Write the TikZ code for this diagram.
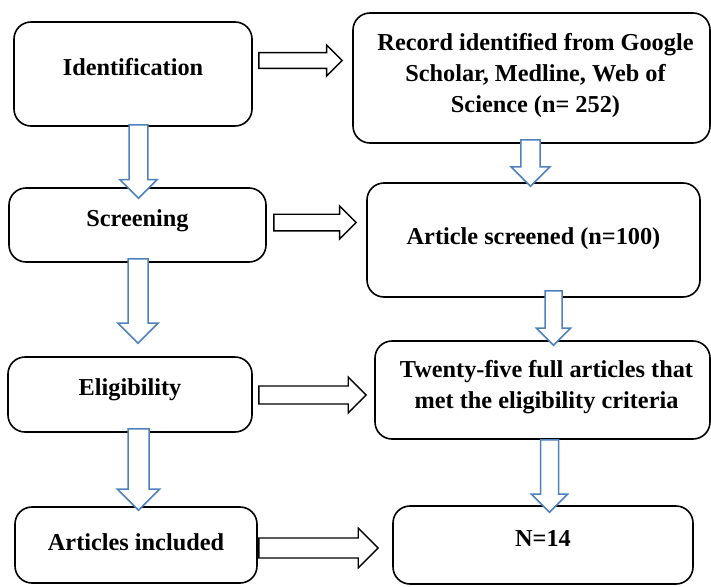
\documentclass[tikz,border=0pt]{standalone}
\usepackage{fontspec}
\setmainfont{Liberation Serif}
\usepackage{tikz}
\usetikzlibrary{calc,positioning}
\definecolor{stepblue}{RGB}{79,129,189}

% hollow block arrow: [shaft half width]{style}{from}{to}
\newcommand{\blockarrow}[4][9.5pt]{%
  \coordinate (ba-s) at (#3);
  \coordinate (ba-t) at (#4);
  \coordinate (ba-b) at ($(ba-t)!2*#1!(ba-s)$);
  \draw[#2] ($(ba-s)!#1!90:(ba-t)$) -- ($(ba-b)!#1!90:(ba-t)$)
    -- ($(ba-b)!2*#1!90:(ba-t)$) -- (ba-t)
    -- ($(ba-b)!2*#1!-90:(ba-t)$) -- ($(ba-b)!#1!-90:(ba-t)$)
    -- ($(ba-s)!#1!-90:(ba-t)$) -- cycle;
}

\begin{document}
\begin{tikzpicture}[x=1pt, y=-1pt,
    stage/.style={draw, line width=1.6pt, rounded corners=17pt, fill=white},
    lbl/.style={font=\fontsize{24.3pt}{31pt}\selectfont\bfseries, align=center, yshift=6pt},
    flowarrow/.style={draw=black, fill=white, line width=1.4pt, line join=miter},
    downarrow/.style={draw=stepblue, fill=white, line width=1.5pt, line join=miter}]
  \useasboundingbox (0,0) rectangle (711,586);
  % Left column: stages
  \node[stage, minimum width=238pt, minimum height=104pt,
        label={[lbl, yshift=1pt]center:Identification}] (ident) at (133,74) {};
  \node[stage, minimum width=257pt, minimum height=74pt,
        label={[lbl, yshift=-2pt]center:Screening}] (screen) at (137.5,225) {};
  \node[stage, minimum width=244pt, minimum height=75pt,
        label={[lbl, yshift=-1pt]center:Eligibility}] (elig) at (130,394.5) {};
  \node[stage, minimum width=242pt, minimum height=76pt,
        label={[lbl, yshift=-3pt]center:Articles included}] (incl) at (136,545) {};
  % Right column: counts
  \node[stage, minimum width=357pt, minimum height=130pt,
        label={[lbl, yshift=-4pt, xshift=4pt]center:Record identified from Google\\Scholar, Medline, Web of\\Science (n= 252)}] (record) at (531.5,78) {};
  \node[stage, minimum width=333pt, minimum height=114pt,
        label={[lbl, yshift=-5pt]center:Article screened (n=100)}] (screened) at (533.5,240) {};
  \node[stage, minimum width=335pt, minimum height=98pt,
        label={[lbl, yshift=-3pt, xshift=4pt]center:Twenty-five full articles that\\met the eligibility criteria}] (twenty) at (542.5,390) {};
  \node[stage, minimum width=300pt, minimum height=78pt,
        label={[lbl, yshift=1pt]center:N=14}] (final) at (543,545) {};
  % Stage -> count
  \blockarrow[7.8pt]{flowarrow}{$(ident.east)+(6,-13.5)$}{$(record.west)+(-10,-17.5)$}
  \blockarrow[8.3pt]{flowarrow}{$(screen.east)+(7,-2.5)$}{$(screened.west)+(-10,-17.5)$}
  \blockarrow[9pt]{flowarrow}{$(elig.east)+(6,0.5)$}{$(twenty.west)+(-8,5)$}
  \blockarrow[10pt]{flowarrow}{$(incl.east)+(1,3)$}{$(final.west)+(-14,3)$}
  % Stage -> stage
  \blockarrow[9.3pt]{downarrow}{$(ident.south)+(5.5,-2)$}{$(screen.north)+(1,11)$}
  \blockarrow[10pt]{downarrow}{$(screen.south)+(0.5,-4)$}{$(elig.north)+(8,-13)$}
  \blockarrow[10.5pt]{downarrow}{$(elig.south)+(8.5,-4)$}{$(incl.north)+(2.5,4)$}
  % Count -> count
  \blockarrow[9.7pt]{downarrow}{$(record.south)+(-1,-4)$}{$(screened.north)+(-3,4)$}
  \blockarrow[8.5pt]{downarrow}{$(screened.south)+(20,-7)$}{$(twenty.north)+(11,5)$}
  \blockarrow[9pt]{downarrow}{$(twenty.south)+(7,0)$}{$(final.north)+(6.5,7)$}
\end{tikzpicture}
\end{document}
